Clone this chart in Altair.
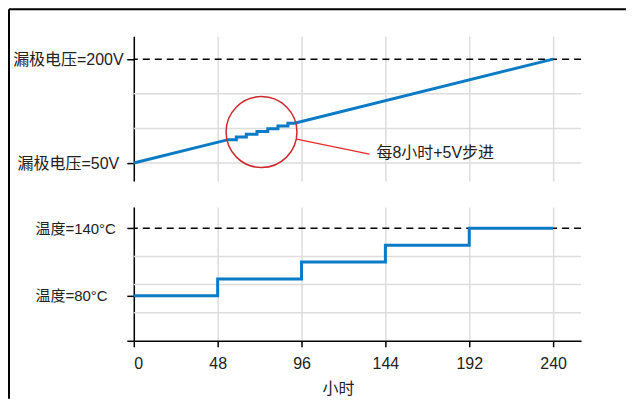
import altair as alt
import pandas as pd

# ---- data ----
volt_hours = [0, 54, 58.7, 58.7, 64.4, 64.4, 70.5, 70.5, 76.7, 76.7, 82.5, 82.5, 88.2, 88.2, 92, 240]
volt_values = [50, 83.75, 83.75, 87.7, 87.7, 91.7, 91.7, 95.6, 95.6, 99.6, 99.6, 103.5, 103.5, 107.5, 107.5, 200]

temp_hours = [0, 48, 96, 144, 192, 240]
temp_values = [80, 95, 110, 125, 140, 140]

x_ticks = [0, 48, 96, 144, 192, 240]
v_ticks = [50, 200]
v_labels = ["漏极电压=50V", "漏极电压=200V"]
v_grid = [50, 100, 150]
v_limit = [200]
t_ticks = [40, 80, 140]
t_labels = ["", "温度=80°C", "温度=140°C"]
t_grid = [65, 90, 115]
t_limit = [140]

circle_h = [73.1]
circle_v = [94.7]
callout_h = [93.1]
callout_v = [84.6]
callout_h2 = [134.9]
callout_v2 = [63.0]
note_h = [138.9]
note_v = [64.4]
note_text = ["每8小时+5V步进"]

FONT = "Liberation Sans, Arial, Noto Sans CJK SC, sans-serif"
BLUE = "#0a7bc4"
GRID = "#dddddd"
TXT = "#222222"
FS = 16


def label_expr(vals, labels):
    expr = "''"
    for v, l in zip(vals, labels):
        expr = f"datum.value == {v} ? '{l}' : ({expr})"
    return expr


xscale = alt.Scale(domain=[0, 256], nice=False, zero=False)
yscale_top = alt.Scale(domain=[24, 233], nice=False, zero=False)
yscale_bot = alt.Scale(domain=[40, 159], nice=False, zero=False)

# ---------------- top panel ----------------
volt_df = pd.DataFrame({"h": volt_hours, "v": volt_values, "i": list(range(len(volt_hours)))})
vgrid_df = pd.DataFrame({"v": v_grid})
vlim_df = pd.DataFrame({"v": v_limit})
circ_df = pd.DataFrame({"h": circle_h, "v": circle_v})
call_df = pd.DataFrame({"h": callout_h, "v": callout_v, "h2": callout_h2, "v2": callout_v2})
note_df = pd.DataFrame({"h": note_h, "v": note_v, "text": note_text})
dummy = pd.DataFrame({"d": [0]})

top_x_axis = alt.Axis(values=x_ticks, grid=True, gridColor=GRID, gridWidth=1.5,
                      labels=False, ticks=False, domain=False, title=None)
top_y_axis = alt.Axis(values=v_ticks, labelExpr=label_expr(v_ticks, v_labels), grid=False,
                      domainColor="black", domainWidth=1.5, tickColor="black", tickWidth=1.5,
                      tickSize=7, labelAlign="center", labelBaseline="middle", labelPadding=59,
                      labelFont=FONT, labelFontSize=FS, labelColor=TXT, title=None)

top_grid = alt.Chart(vgrid_df).mark_rule(color=GRID, strokeWidth=1.5).encode(
    y=alt.Y("v:Q", scale=yscale_top, axis=top_y_axis),
)
top_xgrid = alt.Chart(volt_df).mark_point(opacity=0).encode(
    x=alt.X("h:Q", scale=xscale, axis=top_x_axis),
    y=alt.Y("v:Q", scale=yscale_top),
)
top_limit = alt.Chart(vlim_df).mark_rule(color="black", strokeWidth=1.5, strokeDash=[7, 5]).encode(
    y=alt.Y("v:Q", scale=yscale_top),
)
top_line = alt.Chart(volt_df).mark_line(color=BLUE, strokeWidth=3).encode(
    x=alt.X("h:Q", scale=xscale),
    y=alt.Y("v:Q", scale=yscale_top),
    order="i:Q",
)
top_circle = alt.Chart(circ_df).mark_point(shape="circle", filled=False, size=5041,
                                           color="#cc2a2e", strokeWidth=1.5, opacity=1).encode(
    x=alt.X("h:Q", scale=xscale),
    y=alt.Y("v:Q", scale=yscale_top),
)
top_callout = alt.Chart(call_df).mark_rule(color="#e52a2a", strokeWidth=1.3).encode(
    x=alt.X("h:Q", scale=xscale),
    y=alt.Y("v:Q", scale=yscale_top),
    x2="h2:Q",
    y2="v2:Q",
)
top_note = alt.Chart(note_df).mark_text(align="left", baseline="middle", font=FONT,
                                        fontSize=FS, color=TXT).encode(
    x=alt.X("h:Q", scale=xscale),
    y=alt.Y("v:Q", scale=yscale_top),
    text="text:N",
)
border_top = alt.Chart(dummy).mark_rule(color="black", strokeWidth=2).encode(
    x=alt.value(-125), x2=alt.value(493), y=alt.value(-27)
)
border_left = alt.Chart(dummy).mark_rule(color="black", strokeWidth=2).encode(
    x=alt.value(-125), y=alt.value(-27), y2=alt.value(363)
)

top = alt.layer(top_grid, top_xgrid, top_limit, top_line, top_circle, top_callout, top_note,
                border_top, border_left).properties(width=448, height=145)

# ---------------- bottom panel ----------------
temp_df = pd.DataFrame({"h": temp_hours, "t": temp_values})
tgrid_df = pd.DataFrame({"t": t_grid})
tlim_df = pd.DataFrame({"t": t_limit})

bot_x_axis = alt.Axis(values=x_ticks, grid=True, gridColor=GRID, gridWidth=1.5,
                      domainColor="black", domainWidth=1.5, tickColor="black", tickWidth=1.5,
                      tickSize=6, labelFont=FONT, labelFontSize=FS, labelColor=TXT, labelPadding=9,
                      title="小时", titleFont=FONT, titleFontSize=FS, titleFontWeight="normal",
                      titleColor=TXT, titleX=204.5, titleY=48, titleBaseline="middle")
bot_y_axis = alt.Axis(values=t_ticks, labelExpr=label_expr(t_ticks, t_labels), grid=False,
                      domainColor="black", domainWidth=1.5, tickColor="black", tickWidth=1.5,
                      tickSize=7, labelAlign="left", labelBaseline="middle", labelPadding=92,
                      labelFont=FONT, labelFontSize=15, labelColor=TXT, title=None)

bot_grid = alt.Chart(tgrid_df).mark_rule(color=GRID, strokeWidth=1.5).encode(
    y=alt.Y("t:Q", scale=yscale_bot, axis=bot_y_axis),
)
bot_xgrid = alt.Chart(temp_df).mark_point(opacity=0).encode(
    x=alt.X("h:Q", scale=xscale, axis=bot_x_axis),
    y=alt.Y("t:Q", scale=yscale_bot),
)
bot_limit = alt.Chart(tlim_df).mark_rule(color="black", strokeWidth=1.5, strokeDash=[7, 5]).encode(
    y=alt.Y("t:Q", scale=yscale_bot),
)
bot_line = alt.Chart(temp_df).mark_line(color=BLUE, strokeWidth=3, interpolate="step-after").encode(
    x=alt.X("h:Q", scale=xscale),
    y=alt.Y("t:Q", scale=yscale_bot),
)

bottom = alt.layer(bot_grid, bot_xgrid, bot_limit, bot_line).properties(width=448, height=134)

chart = alt.vconcat(top, bottom, spacing=26, bounds="flush").properties(
    padding=0, background="white"
).configure_view(stroke=None)

chart.save("out.html", embed_options={"renderer": "svg", "actions": False})
